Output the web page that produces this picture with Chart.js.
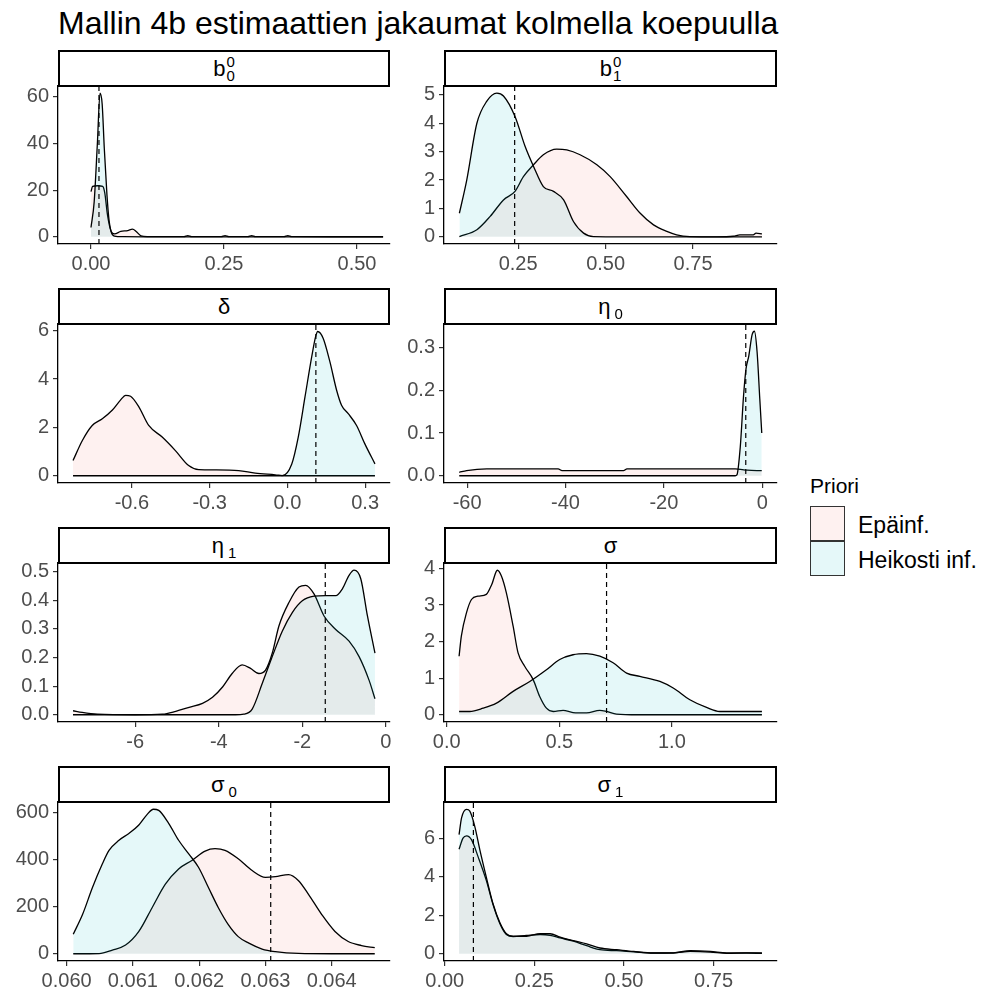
<!DOCTYPE html>
<html>
<head>
<meta charset="utf-8">
<script src="https://cdn.jsdelivr.net/npm/chart.js@4"></script>
<style>
  body { margin: 0; background: #fff; width: 989px; height: 996px; position: relative; overflow: hidden;
         font-family: "Liberation Sans", Arial, sans-serif; }
  .title { position: absolute; left: 58px; top: 7px; font-size: 32px; line-height: 32px; color: #000; white-space: nowrap; }
  canvas { position: absolute; }
  .strip { position: absolute; box-sizing: border-box; border: 2px solid #000; background: #fff;
           display: flex; align-items: center; justify-content: center; font-size: 22px; color: #000; }
  .stack { display: inline-flex; flex-direction: column; font-size: 15px; line-height: 14px; margin-left: 1px; }
  .sub { font-size: 15px; position: relative; top: 7px; margin-left: 4px; }
  .legend-title { position: absolute; left: 810px; top: 475px; font-size: 21px; line-height: 21px; color: #000; }
  .key { position: absolute; left: 810px; width: 35px; height: 35px; box-sizing: border-box; border: 1.5px solid #333; }
  .key-label { position: absolute; left: 858px; font-size: 23px; line-height: 23px; color: #000; white-space: nowrap; }
</style>
</head>
<body>
<div class="title">Mallin 4b estimaattien jakaumat kolmella koepuulla</div>
<script>
// ---- parameter b0^0 ----
const b00_epX = [0.0, 0.003, 0.0125, 0.022, 0.026, 0.031, 0.038, 0.044, 0.056, 0.069, 0.078, 0.085, 0.094, 0.107, 0.14, 0.175, 0.182, 0.189, 0.245, 0.252, 0.259, 0.295, 0.302, 0.309, 0.363, 0.370, 0.377, 0.45, 0.549];
const b00_epY = [19.4, 21.6, 21.9, 21.6, 18.7, 9.4, 2.3, 1.3, 2.3, 2.7, 3.3, 2.3, 0.4, 0.1, 0.05, 0.05, 0.5, 0.05, 0.05, 0.5, 0.05, 0.05, 0.5, 0.05, 0.05, 0.5, 0.05, 0.02, 0.02];
const b00_heX = [0.0, 0.006, 0.012, 0.017, 0.021, 0.025, 0.030, 0.034, 0.038, 0.044, 0.06, 0.1, 0.549];
const b00_heY = [4, 15, 40, 61.6, 57, 38, 18, 7, 2, 0.3, 0.05, 0, 0];

// ---- parameter b1^0 ----
const b10_epX = [0.082, 0.132, 0.17, 0.208, 0.241, 0.265, 0.294, 0.322, 0.36, 0.389, 0.427, 0.475, 0.513, 0.56, 0.599, 0.637, 0.675, 0.703, 0.741, 0.818, 0.865, 0.884, 0.922, 0.93, 0.947];
const b10_epY = [0.01, 0.25, 0.72, 1.3, 1.6, 2.12, 2.54, 2.89, 3.09, 3.06, 2.89, 2.54, 2.12, 1.42, 0.83, 0.42, 0.19, 0.07, 0.01, 0.0, 0.02, 0.07, 0.07, 0.13, 0.1];
const b10_heX = [0.082, 0.103, 0.132, 0.16, 0.189, 0.208, 0.241, 0.27, 0.294, 0.322, 0.351, 0.38, 0.408, 0.437, 0.465, 0.55, 0.7, 0.947];
const b10_heY = [0.83, 2.0, 4.0, 4.77, 5.06, 4.96, 4.24, 3.18, 2.48, 1.77, 1.6, 1.3, 0.54, 0.13, 0.01, 0, 0, 0];

// ---- parameter delta ----
const delta_epX = [-0.827, -0.791, -0.753, -0.714, -0.676, -0.644, -0.624, -0.605, -0.573, -0.535, -0.483, -0.432, -0.381, -0.342, -0.278, -0.188, -0.124, -0.047, -0.009, 0.1, 0.338];
const delta_epY = [0.63, 1.46, 2.08, 2.36, 2.71, 3.13, 3.33, 3.29, 2.85, 2.08, 1.6, 1.04, 0.42, 0.25, 0.24, 0.21, 0.11, 0.04, 0.0, 0.0, 0.0];
const delta_heX = [-0.827, -0.3, -0.02, 0.017, 0.042, 0.068, 0.094, 0.109, 0.117, 0.138, 0.164, 0.19, 0.209, 0.235, 0.267, 0.299, 0.338];
const delta_heY = [0, 0, 0, 0.49, 1.6, 3.26, 4.93, 5.76, 5.97, 5.69, 4.72, 3.54, 2.92, 2.57, 2.08, 1.32, 0.49];

// ---- parameter eta0 ----
const eta0_epX = [-61.6, -60.1, -56, -41.5, -40.7, -28.2, -27.5, -5.5, -3, -0.1];
const eta0_epY = [0.008, 0.012, 0.016, 0.016, 0.012, 0.012, 0.016, 0.016, 0.013, 0.012];
const eta0_heX = [-61.6, -20, -5.5, -5.15, -4.47, -3.8, -3.3, -2.74, -2.06, -1.59, -1.05, -0.5, -0.1];
const eta0_heY = [0, 0, 0, 0.002, 0.067, 0.187, 0.25, 0.28, 0.33, 0.338, 0.29, 0.18, 0.1];

// ---- parameter eta1 ----
const eta1_epX = [-7.49, -7.27, -6.91, -6.0, -5.35, -5.03, -4.71, -4.39, -4.15, -3.91, -3.68, -3.44, -3.24, -3.04, -2.88, -2.72, -2.56, -2.32, -2.08, -1.92, -1.72, -1.48, -1.2, -0.88, -0.64, -0.4, -0.26];
const eta1_epY = [0.014, 0.008, 0.002, 0.0, 0.002, 0.012, 0.026, 0.04, 0.061, 0.097, 0.144, 0.174, 0.162, 0.144, 0.156, 0.215, 0.31, 0.392, 0.446, 0.452, 0.422, 0.345, 0.298, 0.257, 0.203, 0.12, 0.056];
const eta1_heX = [-7.49, -5, -3.6, -3.4, -3.2, -2.96, -2.72, -2.48, -2.24, -2.0, -1.72, -1.44, -1.2, -1.04, -0.88, -0.76, -0.6, -0.44, -0.26];
const eta1_heY = [0, 0, 0, 0.002, 0.02, 0.109, 0.203, 0.292, 0.357, 0.398, 0.414, 0.416, 0.416, 0.44, 0.487, 0.505, 0.475, 0.345, 0.215];

// ---- parameter sigma ----
const sigma_epX = [0.055, 0.065, 0.088, 0.11, 0.139, 0.176, 0.2, 0.225, 0.243, 0.265, 0.295, 0.317, 0.347, 0.384, 0.413, 0.443, 0.473, 0.517, 0.561, 0.621, 0.68, 0.71, 0.754, 0.85, 1.4];
const sigma_epY = [1.6, 2.15, 2.79, 3.15, 3.24, 3.29, 3.56, 3.95, 3.79, 3.33, 2.42, 1.69, 1.32, 0.96, 0.5, 0.18, 0.09, 0.12, 0.06, 0.05, 0.12, 0.09, 0.02, 0, 0];
const sigma_heX = [0.055, 0.102, 0.162, 0.221, 0.295, 0.369, 0.443, 0.502, 0.561, 0.621, 0.68, 0.739, 0.799, 0.858, 0.947, 1.006, 1.08, 1.154, 1.213, 1.273, 1.4];
const sigma_heY = [0.09, 0.09, 0.18, 0.32, 0.64, 0.91, 1.23, 1.51, 1.64, 1.67, 1.6, 1.42, 1.14, 1.05, 0.91, 0.73, 0.41, 0.2, 0.09, 0.09, 0.09];

// ---- parameter sigma0 ----
const sigma0_epX = [0.06010, 0.06049, 0.06069, 0.06089, 0.06109, 0.06129, 0.06149, 0.06169, 0.06189, 0.06209, 0.06224, 0.06239, 0.06259, 0.0628, 0.063, 0.06315, 0.06335, 0.0635, 0.06365, 0.06385, 0.06405, 0.06425, 0.06445, 0.06465];
const sigma0_epY = [0, 1, 16, 37, 95, 196, 296, 361, 397, 437, 447, 440, 404, 354, 325, 328, 337, 311, 253, 167, 95, 52, 35, 26];
const sigma0_heX = [0.06010, 0.06024, 0.06039, 0.06054, 0.06064, 0.06079, 0.06094, 0.06109, 0.06121, 0.06131, 0.06139, 0.06154, 0.06169, 0.06184, 0.06199, 0.06214, 0.06229, 0.06244, 0.06259, 0.06275, 0.06295, 0.06315, 0.0635, 0.0640, 0.06465];
const sigma0_heY = [83, 167, 282, 383, 440, 483, 512, 548, 591, 615, 610, 555, 483, 426, 368, 282, 196, 124, 73, 45, 20, 9, 1.4, 0, 0];

// ---- parameter sigma1 ----
const sigma1_epX = [0.04, 0.051, 0.061, 0.075, 0.093, 0.116, 0.135, 0.154, 0.172, 0.191, 0.228, 0.266, 0.294, 0.322, 0.359, 0.396, 0.433, 0.48, 0.527, 0.582, 0.638, 0.685, 0.741, 0.787, 0.843, 0.885];
const sigma1_epY = [5.42, 6.0, 6.12, 5.91, 5.04, 3.81, 2.54, 1.56, 1.0, 0.89, 0.95, 1.0, 0.96, 0.82, 0.65, 0.42, 0.21, 0.16, 0.1, 0.04, 0.05, 0.16, 0.12, 0.04, 0.04, 0.02];
const sigma1_heX = [0.04, 0.047, 0.061, 0.07, 0.084, 0.098, 0.116, 0.135, 0.154, 0.172, 0.191, 0.228, 0.266, 0.294, 0.322, 0.359, 0.396, 0.433, 0.48, 0.527, 0.582, 0.638, 0.685, 0.741, 0.787, 0.843, 0.885];
const sigma1_heY = [6.18, 7.05, 7.49, 7.4, 6.6, 5.39, 3.98, 2.58, 1.61, 1.04, 0.91, 0.91, 1.04, 1.04, 0.86, 0.68, 0.51, 0.3, 0.21, 0.12, 0.04, 0.04, 0.12, 0.09, 0.02, 0.05, 0.04];

// true parameter values (dashed reference lines)
const trueValues = [0.015, 0.24, 0.11, -3.35, -1.45, 0.71, 0.06308, 0.08];

// axis limits per panel
const xLimits = [[-0.062, 0.562], [0.038, 0.99], [-0.885, 0.396], [-64.7, 3.0], [-7.85, 0.10], [-0.012, 1.467], [0.05987, 0.06488], [-0.002, 0.927]];
const yLimits = [[-3.08, 64.7], [-0.253, 5.313], [-0.3, 6.28], [-0.0169, 0.355], [-0.0253, 0.530], [-0.1975, 4.1475], [-30.75, 645.75], [-0.375, 7.875]];

// tick labels per panel
const xTickLabels = [['0.00','0.25','0.50'], ['0.25','0.50','0.75'], ['-0.6','-0.3','0.0','0.3'], ['-60','-40','-20','0'],
                     ['-6','-4','-2','0'], ['0.0','0.5','1.0'], ['0.060','0.061','0.062','0.063','0.064'], ['0.00','0.25','0.50','0.75']];
const yTickLabels = [['0','20','40','60'], ['0','1','2','3','4','5'], ['0','2','4','6'], ['0.0','0.1','0.2','0.3'],
                     ['0.0','0.1','0.2','0.3','0.4','0.5'], ['0','1','2','3','4'], ['0','200','400','600'], ['0','2','4','6']];

// facet strip labels
const stripLabels = [
  'b<span class="stack"><span>0</span><span>0</span></span>',
  'b<span class="stack"><span>0</span><span>1</span></span>',
  'δ',
  'η<span class="sub">0</span>',
  'η<span class="sub">1</span>',
  'σ',
  'σ<span class="sub">0</span>',
  'σ<span class="sub">1</span>'
];

const priorLabels = ['Epäinf.', 'Heikosti inf.'];
const epSeries = [[b00_epX, b00_epY], [b10_epX, b10_epY], [delta_epX, delta_epY], [eta0_epX, eta0_epY],
                  [eta1_epX, eta1_epY], [sigma_epX, sigma_epY], [sigma0_epX, sigma0_epY], [sigma1_epX, sigma1_epY]];
const heSeries = [[b00_heX, b00_heY], [b10_heX, b10_heY], [delta_heX, delta_heY], [eta0_heX, eta0_heY],
                  [eta1_heX, eta1_heY], [sigma_heX, sigma_heY], [sigma0_heX, sigma0_heY], [sigma1_heX, sigma1_heY]];

// ---- layout ----
const COL_X = [58, 444];
const COL_W = [332, 333];
const ROW_TOP = [86, 324, 563, 802];
const ROW_BOTTOM = [244, 483, 722, 961];
const STRIP_H = 36;
const PAD_TOP = 20, PAD_RIGHT = 20, Y_AXIS_W = 58, X_AXIS_H = 40;

const FILL_EP = 'rgba(248,118,109,0.1)';
const FILL_HE = 'rgba(0,191,196,0.1)';

Chart.defaults.font.family = '"Liberation Sans", Arial, sans-serif';
Chart.defaults.font.size = 20;
Chart.defaults.color = '#4D4D4D';

const toPoints = (xs, ys) => xs.map((x, i) => ({ x: x, y: ys[i] }));

function axisOptions(limits, labels, isX) {
  return {
    type: 'linear',
    min: limits[0],
    max: limits[1],
    afterFit: s => { if (isX) s.height = X_AXIS_H; else s.width = Y_AXIS_W; },
    afterBuildTicks: s => { s.ticks = labels.map(t => ({ value: parseFloat(t) })); },
    ticks: {
      autoSkip: false, maxRotation: 0, minRotation: 0,
      padding: isX ? 3 : 4,
      color: '#4D4D4D',
      font: { size: 20 },
      callback: (v, i) => labels[i]
    },
    grid: { drawOnChartArea: false, drawTicks: true, tickLength: 5, color: '#333', lineWidth: 1.2 },
    border: { display: true, color: '#000', width: 1.3 }
  };
}

for (let i = 0; i < 8; i++) {
  const col = i % 2, row = Math.floor(i / 2);
  const plotW = COL_W[col], plotH = ROW_BOTTOM[row] - ROW_TOP[row];

  const strip = document.createElement('div');
  strip.className = 'strip';
  strip.style.left = COL_X[col] + 'px';
  strip.style.top = (ROW_TOP[row] - STRIP_H) + 'px';
  strip.style.width = plotW + 'px';
  strip.style.height = (STRIP_H + 1) + 'px';
  strip.innerHTML = stripLabels[i];
  document.body.appendChild(strip);

  const cv = document.createElement('canvas');
  const w = Y_AXIS_W + plotW + PAD_RIGHT, h = PAD_TOP + plotH + X_AXIS_H;
  cv.width = w; cv.height = h;
  cv.style.left = (COL_X[col] - Y_AXIS_W) + 'px';
  cv.style.top = (ROW_TOP[row] - PAD_TOP) + 'px';
  cv.style.width = w + 'px'; cv.style.height = h + 'px';
  document.body.appendChild(cv);

  const lineStyle = { borderColor: '#000', borderWidth: 1.3, pointRadius: 0, cubicInterpolationMode: 'monotone' };

  new Chart(cv, {
    type: 'line',
    data: {
      datasets: [
        { label: 'true', data: [{ x: trueValues[i], y: yLimits[i][0] }, { x: trueValues[i], y: yLimits[i][1] }],
          borderColor: '#000', borderWidth: 1.2, borderDash: [5, 4], pointRadius: 0, fill: false, tension: 0 },
        Object.assign({ label: priorLabels[1], data: toPoints(heSeries[i][0], heSeries[i][1]),
          backgroundColor: FILL_HE, fill: 'origin' }, lineStyle),
        Object.assign({ label: priorLabels[0], data: toPoints(epSeries[i][0], epSeries[i][1]),
          backgroundColor: FILL_EP, fill: 'origin' }, lineStyle)
      ]
    },
    options: {
      responsive: false, animation: false, maintainAspectRatio: false,
      layout: { padding: { top: PAD_TOP, right: PAD_RIGHT, left: 0, bottom: 0 } },
      plugins: { legend: { display: false }, tooltip: { enabled: false } },
      scales: {
        x: axisOptions(xLimits[i], xTickLabels[i], true),
        y: axisOptions(yLimits[i], yTickLabels[i], false)
      }
    }
  });
}

// ---- legend ----
const lt = document.createElement('div');
lt.className = 'legend-title'; lt.textContent = 'Priori';
document.body.appendChild(lt);
const keyFills = [FILL_EP, FILL_HE];
const keyTops = [506, 541];
const labelTops = [514, 549];
priorLabels.forEach((name, k) => {
  const key = document.createElement('div');
  key.className = 'key'; key.style.top = keyTops[k] + 'px'; key.style.background = keyFills[k];
  document.body.appendChild(key);
  const lab = document.createElement('div');
  lab.className = 'key-label'; lab.style.top = labelTops[k] + 'px'; lab.textContent = name;
  document.body.appendChild(lab);
});
</script>
</body>
</html>
